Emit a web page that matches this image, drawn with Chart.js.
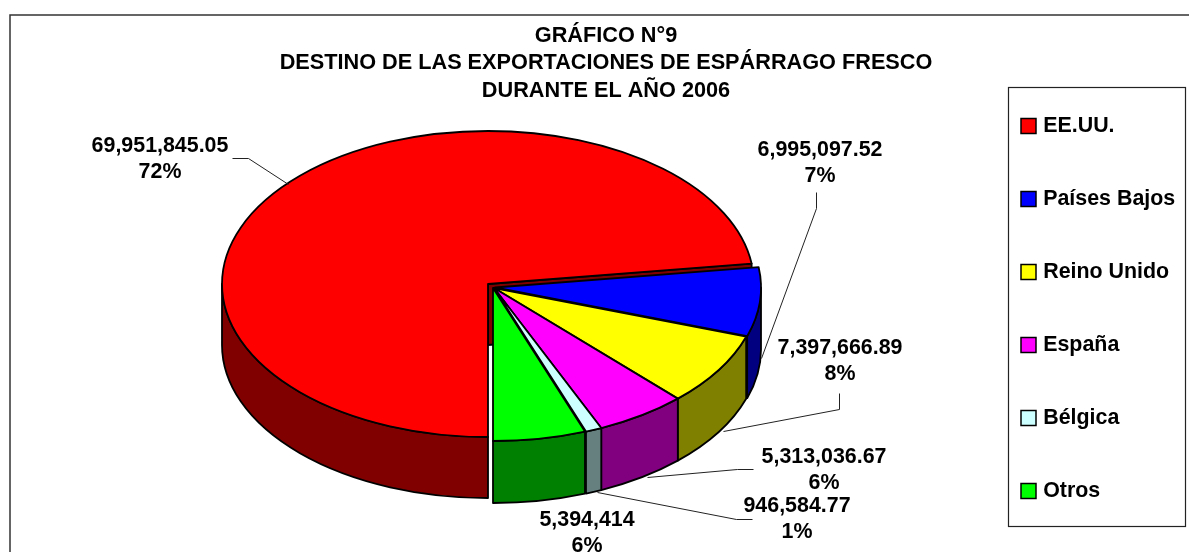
<!DOCTYPE html>
<html><head><meta charset="utf-8">
<style>html,body{margin:0;padding:0;background:#fff;overflow:hidden}canvas{display:block}</style>
<script src="https://cdn.jsdelivr.net/npm/chart.js@4/dist/chart.umd.js"></script>
</head><body><canvas id="c" width="1189" height="552"></canvas>
<script>
const titleLines = ['GRÁFICO N°9','DESTINO DE LAS EXPORTACIONES DE ESPÁRRAGO FRESCO','DURANTE EL AÑO 2006'];
const categories = ['EE.UU.','Países Bajos','Reino Unido','España','Bélgica','Otros'];
const values = [69951845.05,6995097.52,7397666.89,5313036.67,946584.77,5394414];
const percents = ['72%','7%','8%','6%','1%','6%'];
const topColors = ['#FF0000','#0000FF','#FFFF00','#FF00FF','#CCFFFF','#00FF00'];
const wallColors = ['#800000','#000080','#808000','#800080','#668080','#008000'];

// layout of the projected pie and of its labels
const FONT_FAMILY = '"Liberation Sans", Arial, sans-serif';
const LABEL_SIZE = 21.4;
const PIE = {cx:488, cy:284, rx:266, ry:153};
const explode = [[0,0,61],[7,3.5,62],[6,4,62],[6,4,62],[6,4,62],[5,4,62]];
const labelLayout = [
  {x:160,y:146,line:[[232,158],[248,158],[288,184]]},
  {x:820,y:150,line:[[816,192],[816,208],[761,358]]},
  {x:840,y:348,line:[[839,393],[839,409],[723,431]]},
  {x:824,y:457,line:[[753,469],[737,469],[647,477]]},
  {x:797,y:506,line:[[752,519],[736,519],[597,492]]},
  {x:587,y:520,line:null}
];
const LEGEND = {x:1008,y:87,w:177,h:439,swatchX:1024.5,firstY:126,pad:51.6,font:21.4};

const fmt = v => v.toLocaleString('en-US',{maximumFractionDigits:2});
const sliceCentre = i => [PIE.cx+explode[i][0],PIE.cy+explode[i][1]];

function wall(ctx,i,a,b,color){
  const [cx,cy]=sliceCentre(i), d=explode[i][2];
  ctx.beginPath();
  ctx.ellipse(cx,cy,PIE.rx,PIE.ry,0,a,b);
  ctx.ellipse(cx,cy+d,PIE.rx,PIE.ry,0,b,a,true);
  ctx.closePath();
  ctx.fillStyle=color; ctx.fill(); ctx.stroke();
}

const pie3d = {
  id:'pie3d',
  afterLayout(chart){
    const t=chart.titleBlock;
    t.left=23; t.right=1189; t.top=0; t.bottom=100;
    const l=chart.legend, p=LEGEND.pad;
    const w=l.width, h=l.height;
    l.left=LEGEND.swatchX-p; l.right=l.left+w;
    l.top=LEGEND.firstY-LEGEND.font/2-p; l.bottom=l.top+h;
    if(l.adjustHitBoxes) l.adjustHitBoxes();
  },
  beforeDraw(chart){
    const ctx=chart.ctx;
    ctx.save();
    ctx.strokeStyle='#333'; ctx.lineWidth=1.5;
    ctx.strokeRect(10,15,1400,800);
    ctx.lineWidth=1.2;
    ctx.strokeStyle='#222';
    ctx.fillStyle='#fff';
    ctx.fillRect(LEGEND.x,LEGEND.y,LEGEND.w,LEGEND.h);
    ctx.strokeRect(LEGEND.x+.5,LEGEND.y+.5,LEGEND.w,LEGEND.h);
    ctx.restore();
  },
  beforeDatasetsDraw(chart){
    const ctx=chart.ctx, arcs=chart.getDatasetMeta(0).data;
    ctx.save();
    ctx.lineWidth=1.8; ctx.strokeStyle='#000'; ctx.lineJoin='round';
    arcs.forEach((arc,i)=>{
      const [cx,cy]=sliceCentre(i), d=explode[i][2];
      const a=arc.startAngle,b=arc.endAngle;
      // the inner cut face of the main slice, seen through the gap
      if(i===0){
        ctx.beginPath();
        const ex=cx+PIE.rx*Math.cos(b), ey=cy+PIE.ry*Math.sin(b);
        ctx.moveTo(cx,cy); ctx.lineTo(ex,ey); ctx.lineTo(ex,ey+d); ctx.lineTo(cx,cy+d); ctx.closePath();
        ctx.fillStyle=wallColors[0]; ctx.fill(); ctx.stroke();
      }
      // outer wall: the part of the slice that lies on the near half of the rim
      [[0,Math.PI],[2*Math.PI,3*Math.PI]].forEach(([lo,hi])=>{
        const s=Math.max(a,lo), e=Math.min(b,hi);
        if(e>s) wall(ctx,i,s,e,wallColors[i]);
      });
      // top face, filled by the library's arc element under the projection
      ctx.save();
      ctx.translate(cx,cy);
      ctx.scale(PIE.rx/arc.outerRadius,PIE.ry/arc.outerRadius);
      ctx.translate(-arc.x,-arc.y);
      arc.draw(ctx);
      ctx.restore();
      ctx.beginPath();
      ctx.moveTo(cx,cy);
      ctx.ellipse(cx,cy,PIE.rx,PIE.ry,0,a,b);
      ctx.closePath();
      ctx.stroke();
    });
    ctx.restore();
    return false;
  },
  afterDraw(chart){
    const ctx=chart.ctx;
    ctx.save();
    ctx.strokeStyle='#222'; ctx.lineWidth=1;
    ctx.fillStyle='#000'; ctx.font='bold '+LABEL_SIZE+'px '+FONT_FAMILY;
    ctx.textAlign='center'; ctx.textBaseline='middle';
    labelLayout.forEach((lab,i)=>{
      if(lab.line){
        ctx.beginPath();
        lab.line.forEach((p,k)=> k?ctx.lineTo(p[0]+.5,p[1]+.5):ctx.moveTo(p[0]+.5,p[1]+.5));
        ctx.stroke();
      }
      ctx.fillText(fmt(values[i]),lab.x,lab.y);
      ctx.fillText(percents[i],lab.x,lab.y+26.5);
    });
    ctx.restore();
  }
};

new Chart(document.getElementById('c'),{
  type:'pie',
  data:{labels:categories,datasets:[{data:values,backgroundColor:topColors,borderWidth:0}]},
  options:{
    responsive:false,animation:false,rotation:180,
    plugins:{
      tooltip:{enabled:false},
      title:{display:true,text:titleLines,color:'#000',
        font:{family:FONT_FAMILY,size:21.7,weight:'bold',lineHeight:1.27},
        padding:{top:22,bottom:0}},
      legend:{position:'right',align:'start',
        labels:{color:'#000',
          font:{family:FONT_FAMILY,size:LEGEND.font,weight:'bold'},
          usePointStyle:true,pointStyle:'rect',boxWidth:8,boxHeight:15,padding:LEGEND.pad,
          generateLabels(chart){
            return Chart.overrides.pie.plugins.legend.labels.generateLabels(chart).map(it=>
              Object.assign(it,{strokeStyle:'#000',lineWidth:1.5,pointStyle:'rect'}));
          }}}
    }
  },
  plugins:[pie3d]
});
</script></body></html>
